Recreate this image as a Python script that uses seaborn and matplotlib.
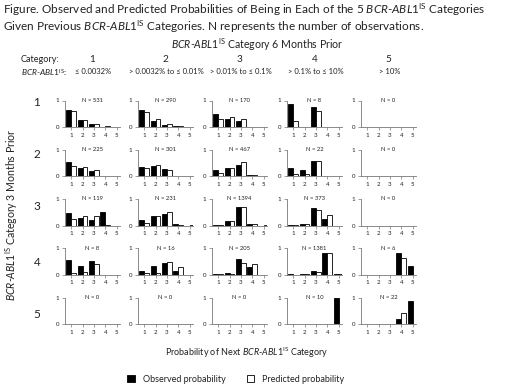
import numpy as np
import pandas as pd
import matplotlib
matplotlib.use("Agg")
import matplotlib.pyplot as plt
import matplotlib.transforms as mtrans
from matplotlib.patches import Patch
import seaborn as sns

sns.set_theme(style="white")
plt.rcParams['font.family'] = ['Lato', 'DejaVu Sans']
plt.rcParams['mathtext.fontset'] = 'custom'
plt.rcParams['mathtext.rm'] = 'Lato'
plt.rcParams['mathtext.it'] = 'Lato:italic'
plt.rcParams['mathtext.bf'] = 'Lato:bold'

# ---------------- data ----------------
CATS = ["1", "2", "3", "4", "5"]
RANGES = ["≤ 0.0032%", "> 0.0032% to ≤ 0.01%", "> 0.01% to ≤ 0.1%",
          "> 0.1% to ≤ 10%", "> 10%"]
ROW_LABELS = ["1", "2", "3", "4", "5"]
N = [[531, 290, 170, 8, 0],
     [225, 301, 467, 22, 0],
     [119, 231, 1394, 373, 0],
     [8, 16, 205, 1381, 6],
     [0, 0, 0, 10, 22]]
OBS = [
    [[0.63, 0.25, 0.10, 0.01, 0], [0.65, 0.24, 0.09, 0.02, 0], [0.48, 0.30, 0.21, 0, 0], [0.88, 0, 0.75, 0, 0], [0, 0, 0, 0, 0]],
    [[0.52, 0.30, 0.19, 0.01, 0], [0.35, 0.40, 0.28, 0.02, 0], [0.23, 0.33, 0.42, 0.03, 0], [0.30, 0.22, 0.58, 0, 0], [0, 0, 0, 0, 0]],
    [[0.47, 0.30, 0.20, 0.50, 0], [0.22, 0.35, 0.42, 0.05, 0], [0.03, 0.17, 0.70, 0.07, 0], [0.03, 0.07, 0.65, 0.25, 0], [0, 0, 0, 0, 0]],
    [[0.55, 0.33, 0.52, 0, 0], [0.15, 0.33, 0.45, 0.15, 0], [0.02, 0.06, 0.60, 0.28, 0], [0.01, 0.01, 0.14, 0.82, 0.01], [0, 0, 0, 0.83, 0.33]],
    [[0, 0, 0, 0, 0], [0, 0, 0, 0, 0], [0, 0, 0, 0, 0], [0, 0, 0, 0, 1.0], [0, 0, 0, 0.17, 0.86]],
]
PRED = [
    [[0.62, 0.26, 0.10, 0.02, 0], [0.55, 0.31, 0.13, 0.02, 0], [0.32, 0.36, 0.30, 0, 0], [0.22, 0, 0.60, 0, 0], [0, 0, 0, 0, 0]],
    [[0.40, 0.36, 0.23, 0.02, 0], [0.33, 0.42, 0.25, 0.02, 0], [0.13, 0.33, 0.52, 0.03, 0], [0.07, 0.10, 0.58, 0, 0], [0, 0, 0, 0, 0]],
    [[0.25, 0.35, 0.37, 0.02, 0], [0.10, 0.35, 0.50, 0.03, 0.01], [0.02, 0.18, 0.70, 0.06, 0.01], [0.02, 0.04, 0.58, 0.38, 0], [0, 0, 0, 0, 0]],
    [[0.08, 0.10, 0.42, 0, 0], [0.07, 0.08, 0.47, 0.30, 0], [0.01, 0.03, 0.45, 0.42, 0], [0, 0.01, 0.10, 0.82, 0.01], [0, 0, 0, 0.65, 0]],
    [[0, 0, 0, 0, 0], [0, 0, 0, 0, 0], [0, 0, 0, 0, 0], [0, 0, 0, 0, 0], [0, 0, 0, 0.42, 0]],
]
TYPES = ["Observed", "Predicted"]

BCR = r"$\mathit{BCR}$-$\mathit{ABL1}^{\mathrm{IS}}$"
TXT = "#222222"
SPINE = "#777777"

W, H = 520, 385
fig = plt.figure(figsize=(W / 100, H / 100), dpi=100)
fig.patch.set_facecolor("white")

def fx(px):
    return px / W

def fy(py):
    return 1 - py / H

# ---------------- titles ----------------
fig.text(fx(3), fy(10), "Figure. Observed and Predicted Probabilities of Being in Each of the 5 "
         + BCR + " Categories", fontsize=8.45, color=TXT, va="center", ha="left")
fig.text(fx(3), fy(27), "Given Previous " + BCR + " Categories. N represents the number of observations.",
         fontsize=8.45, color=TXT, va="center", ha="left")
fig.text(fx(257), fy(45), BCR + " Category 6 Months Prior", fontsize=7.6, color=TXT,
         va="center", ha="center")
fig.text(fx(21), fy(60), "Category:", fontsize=6.6, color=TXT, va="center", ha="left")
fig.text(fx(21), fy(72), BCR + ":", fontsize=6.0, color=TXT, va="center", ha="left")

LEFTS = [65, 138, 212, 287, 361]
AXW = 55
ZERO0 = 127
ROWSTEP = 49.25
YMAX = 1.08
UNIT = 26.5

for c in range(5):
    cx = LEFTS[c] + AXW / 2
    fig.text(fx(cx), fy(60), CATS[c], fontsize=7.2, color=TXT, va="center", ha="center")
    fig.text(fx(cx + 1), fy(72), RANGES[c], fontsize=5.5, color=TXT, va="center", ha="center")

row_label_y = [102, 155, 207, 262, 315]
for r in range(5):
    fig.text(fx(37), fy(row_label_y[r]), ROW_LABELS[r], fontsize=8.5, color=TXT,
             va="center", ha="center")
fig.text(fx(12), fy(215), BCR + " Category 3 Months Prior", fontsize=7.6, color=TXT,
         va="center", ha="center", rotation=90)

# ---------------- panels ----------------
for r in range(5):
    zero_px = ZERO0 + ROWSTEP * r
    hpx = UNIT * YMAX
    for c in range(5):
        ax = fig.add_axes([fx(LEFTS[c]), fy(zero_px), AXW / W, hpx / H])
        df = pd.DataFrame({
            "cat": CATS * 2,
            "type": [TYPES[0]] * 5 + [TYPES[1]] * 5,
            "p": list(OBS[r][c]) + list(PRED[r][c]),
        })
        sns.barplot(data=df, x="cat", y="p", hue="type", order=CATS, hue_order=TYPES,
                    palette={"Observed": "black", "Predicted": "white"},
                    edgecolor="black", linewidth=0.6, width=0.86, gap=0,
                    errorbar=None, legend=False, ax=ax)
        for p in ax.patches:
            if p.get_height() == 0:
                p.set_visible(False)
        ax.set_xlim(-0.55, 4.3)
        ax.set_ylim(0, YMAX)
        ax.set_yticks([0, 1])
        ax.set_yticklabels(["0", "1"])
        ax.set_xlabel("")
        ax.set_ylabel("")
        ax.set_facecolor("none")
        for s in ["top", "right"]:
            ax.spines[s].set_visible(False)
        for s in ["left", "bottom"]:
            ax.spines[s].set_color(SPINE)
            ax.spines[s].set_linewidth(0.6)
        ax.spines["left"].set_bounds(0, 1)
        ax.tick_params(axis="both", labelsize=4.4, colors=SPINE, labelcolor=TXT,
                       length=2, width=0.5, pad=2, direction="out",
                       bottom=True, left=True)
        tr = mtrans.blended_transform_factory(ax.transAxes, ax.transData)
        ax.text(0.5, 1.0, f"N = {N[r][c]}", transform=tr, fontsize=4.2, color=TXT,
                ha="center", va="center")

# ---------------- bottom ----------------
fig.text(fx(247), fy(353), "Probability of Next " + BCR + " Category", fontsize=6.5,
         color=TXT, va="center", ha="center")
handles = [Patch(facecolor="black", edgecolor="black", linewidth=0.6),
           Patch(facecolor="white", edgecolor="black", linewidth=0.6)]
fig.legend(handles, ["Observed probability", "Predicted probability"],
           loc="center", bbox_to_anchor=(fx(236), fy(379)), ncol=2, frameon=False,
           fontsize=6.5, handlelength=0.8, handleheight=0.8, columnspacing=2.4,
           handletextpad=0.9, labelcolor=TXT)

fig.savefig("out.png", dpi=100, facecolor="white")
